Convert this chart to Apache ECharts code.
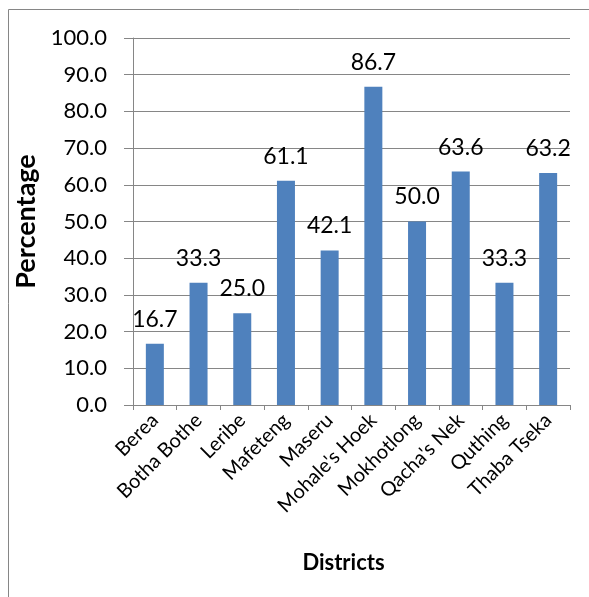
<!DOCTYPE html>
<html><head><meta charset="utf-8">
<script src="https://cdn.jsdelivr.net/npm/echarts@6/dist/echarts.min.js"></script>
<style>html,body{margin:0;padding:0;background:#fff}#c{width:589px;height:597px}</style>
</head><body><div id="c"></div>
<script>
const categories = ["Berea","Botha Bothe","Leribe","Mafeteng","Maseru","Mohale's Hoek","Mokhotlong","Qacha's Nek","Quthing","Thaba Tseka"];
const values = [16.7,33.3,25.0,61.1,42.1,86.7,50.0,63.6,33.3,63.2];
const yTitle = "Percentage";
const xTitle = "Districts";
const FONT = "Lato";
const chart = echarts.init(document.getElementById('c'), null, {renderer:'canvas'});
chart.setOption({
  animation:false,
  textStyle:{fontFamily:FONT},
  graphic:[{type:'rect',shape:{x:8.5,y:9.5,width:600,height:600},style:{fill:null,stroke:'#868686',lineWidth:1}}],
  grid:{left:133,right:19,top:38,bottom:192},
  xAxis:{type:'category',data:categories,
    name:xTitle,nameLocation:'middle',nameGap:147,
    nameTextStyle:{fontFamily:FONT,fontWeight:'bold',fontSize:22,color:'#000',padding:[0,16,0,0]},
    axisLine:{lineStyle:{color:'#868686',width:1}},
    axisTick:{show:true,length:5,lineStyle:{color:'#868686'}},
    axisLabel:{rotate:45,interval:0,margin:12,fontSize:20,color:'#000',fontFamily:FONT}},
  yAxis:{type:'value',min:0,max:100,interval:10,
    name:yTitle,nameLocation:'middle',nameGap:88,
    nameTextStyle:{fontFamily:FONT,fontWeight:'bold',fontSize:27,color:'#000'},
    axisLine:{show:true,lineStyle:{color:'#868686',width:1}},
    axisTick:{show:true,length:9,lineStyle:{color:'#868686'}},
    splitLine:{lineStyle:{color:'#868686',width:1}},
    axisLabel:{margin:26,fontSize:22,color:'#000',fontFamily:FONT,formatter:v=>v.toFixed(1)}},
  series:[{type:'bar',data:values,barWidth:18,
    itemStyle:{color:'#4F81BD'},
    label:{show:true,position:'top',distance:13,fontSize:23,color:'#000',fontFamily:FONT,formatter:p=>p.value.toFixed(1)}}]
});
</script></body></html>
